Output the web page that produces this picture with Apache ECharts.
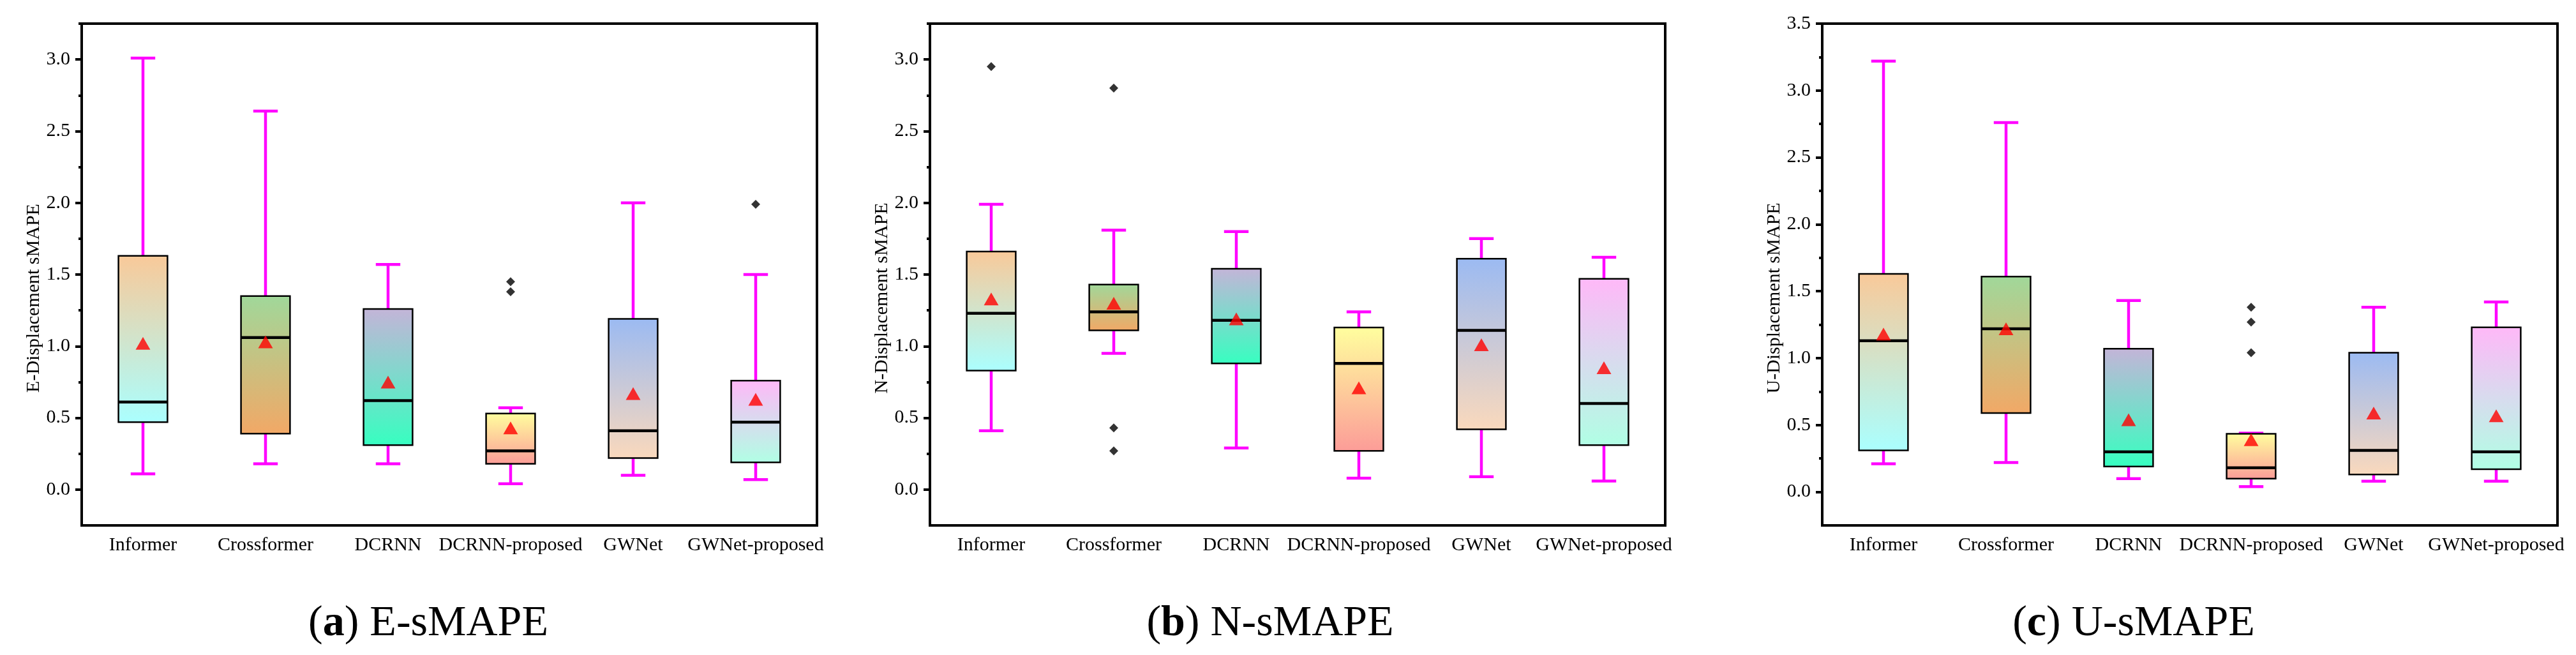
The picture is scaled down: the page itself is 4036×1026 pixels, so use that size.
<!DOCTYPE html>
<html>
<head>
<meta charset="utf-8">
<title>sMAPE boxplots</title>
<script src="https://cdn.jsdelivr.net/npm/echarts@6/dist/echarts.min.js"></script>
<style>
    html, body { margin: 0; padding: 0; background: #fff; }
    #main { width: 4036px; height: 1026px; }
</style>
</head>
<body>
<div id="main"></div>
<script>
// 模型名称
var categories = ["Informer", "Crossformer", "DCRNN", "DCRNN-proposed", "GWNet", "GWNet-proposed"];

// 每个箱子: [min, Q1, median, Q3, max]
var eBox = [
    [0.11, 0.47, 0.61, 1.63, 3.01],
    [0.18, 0.39, 1.06, 1.35, 2.64],
    [0.18, 0.31, 0.62, 1.26, 1.57],
    [0.04, 0.18, 0.27, 0.53, 0.57],
    [0.10, 0.22, 0.41, 1.19, 2.00],
    [0.07, 0.19, 0.47, 0.76, 1.50]
];
var eMean = [1.02, 1.03, 0.75, 0.43, 0.67, 0.63];
var eOutliers = [[3, 1.45], [3, 1.38], [5, 1.99]];

var nBox = [
    [0.41, 0.83, 1.23, 1.66, 1.99],
    [0.95, 1.11, 1.24, 1.43, 1.81],
    [0.29, 0.88, 1.18, 1.54, 1.80],
    [0.08, 0.27, 0.88, 1.13, 1.24],
    [0.09, 0.42, 1.11, 1.61, 1.75],
    [0.06, 0.31, 0.60, 1.47, 1.62]
];
var nMean = [1.33, 1.30, 1.19, 0.71, 1.01, 0.85];
var nOutliers = [[0, 2.95], [1, 2.80], [1, 0.43], [1, 0.27]];

var uBox = [
    [0.21, 0.31, 1.13, 1.63, 3.22],
    [0.22, 0.59, 1.22, 1.61, 2.76],
    [0.10, 0.19, 0.30, 1.07, 1.43],
    [0.04, 0.10, 0.18, 0.435, 0.44],
    [0.08, 0.13, 0.31, 1.04, 1.38],
    [0.08, 0.17, 0.30, 1.23, 1.42]
];
var uMean = [1.18, 1.22, 0.54, 0.39, 0.59, 0.57];
var uOutliers = [[3, 1.38], [3, 1.27], [3, 1.04]];

// 刻度
var majorTicksEN = [0, 0.5, 1.0, 1.5, 2.0, 2.5, 3.0];
var minorTicksEN = [0.25, 0.75, 1.25, 1.75, 2.25, 2.75, 3.25];
var majorTicksU = [0, 0.5, 1.0, 1.5, 2.0, 2.5, 3.0, 3.5];
var minorTicksU = [0.25, 0.75, 1.25, 1.75, 2.25, 2.75, 3.25];

// 每个箱子的渐变色，上 -> 下
var boxColors = [
    ["#f9c999", "#aaffff"],
    ["#a0d89a", "#f2a866"],
    ["#c4b4d8", "#36ffc0"],
    ["#ffff9e", "#fc9c98"],
    ["#9bbaf2", "#fad9bc"],
    ["#ffb8f8", "#b0ffe4"]
];

var FONT = "'Liberation Serif', 'Times New Roman', serif";

var panels = [
    { name: "E-Displacement sMAPE", caption: "({b|a}) E-sMAPE", box: eBox, mean: eMean, out: eOutliers,
      max: 3.25, major: majorTicksEN, minor: minorTicksEN, left: 128, capX: 671 },
    { name: "N-Displacement sMAPE", caption: "({b|b}) N-sMAPE", box: nBox, mean: nMean, out: nOutliers,
      max: 3.25, major: majorTicksEN, minor: minorTicksEN, left: 1457, capX: 1990 },
    { name: "U-Displacement sMAPE", caption: "({b|c}) U-sMAPE", box: uBox, mean: uMean, out: uOutliers,
      max: 3.5, major: majorTicksU, minor: minorTicksU, left: 2855, capX: 3343 }
];

// 自定义箱线图：品红须线，黑色中位线，渐变箱体
function renderBox(params, api) {
    var x = api.value(0);
    var lo = api.coord([x, api.value(1)]);
    var q1 = api.coord([x, api.value(2)]);
    var md = api.coord([x, api.value(3)]);
    var q3 = api.coord([x, api.value(4)]);
    var hi = api.coord([x, api.value(5)]);
    var band = api.size([1, 0])[0];
    var bw = band * 0.4;
    var cw = band * 0.2;
    var cx = md[0];
    var c = boxColors[params.dataIndex];
    var whisker = { stroke: "#ff00ff", lineWidth: 4.5 };

    return {
        type: "group",
        children: [
            { type: "line", shape: { x1: cx, y1: q3[1], x2: cx, y2: hi[1] }, style: whisker },
            { type: "line", shape: { x1: cx, y1: lo[1], x2: cx, y2: q1[1] }, style: whisker },
            { type: "line", shape: { x1: cx - cw / 2, y1: hi[1], x2: cx + cw / 2, y2: hi[1] }, style: whisker },
            { type: "line", shape: { x1: cx - cw / 2, y1: lo[1], x2: cx + cw / 2, y2: lo[1] }, style: whisker },
            {
                type: "rect",
                shape: { x: cx - bw / 2, y: q3[1], width: bw, height: q1[1] - q3[1] },
                style: {
                    fill: new echarts.graphic.LinearGradient(0, 0, 0, 1, [
                        { offset: 0, color: c[0] },
                        { offset: 1, color: c[1] }
                    ]),
                    stroke: "#000",
                    lineWidth: 2.5
                }
            },
            { type: "line", shape: { x1: cx - bw / 2, y1: md[1], x2: cx + bw / 2, y2: md[1] },
              style: { stroke: "#000", lineWidth: 4.5 } }
        ]
    };
}

function buildOption() {
    var option = {
        backgroundColor: "#fff",
        animation: false,
        grid: [],
        xAxis: [],
        yAxis: [],
        series: [],
        graphic: []
    };

    panels.forEach(function(p, i) {
        option.grid.push({
            left: p.left, top: 37, width: 1152, height: 786,
            show: true, borderColor: "#000", borderWidth: 4,
            containLabel: false, outerBoundsMode: "none"
        });

        option.xAxis.push({
            type: "category",
            gridIndex: i,
            data: categories,
            axisLine: { onZero: false, lineStyle: { color: "#000", width: 4 } },
            axisTick: { alignWithLabel: true, length: 10, lineStyle: { color: "#000", width: 4 } },
            axisLabel: { color: "#000", fontSize: 30, fontFamily: FONT, margin: 16, interval: 0 },
            splitLine: { show: false }
        });

        // 主刻度 + 标签
        option.yAxis.push({
            type: "value",
            gridIndex: i,
            position: "left",
            min: -0.25,
            max: p.max,
            name: p.name,
            nameLocation: "middle",
            nameGap: 60,
            nameTextStyle: { color: "#000", fontSize: 30, fontFamily: FONT, padding: [0, 74, 0, 0] },
            axisLine: { show: true, onZero: false, lineStyle: { color: "#000", width: 4 } },
            axisTick: { show: true, length: 10, customValues: p.major, lineStyle: { color: "#000", width: 4 } },
            axisLabel: {
                color: "#000", fontSize: 30, fontFamily: FONT, margin: 18,
                customValues: p.major,
                formatter: function(v) { return v.toFixed(1); }
            },
            splitLine: { show: false }
        });

        // 次刻度
        option.yAxis.push({
            type: "value",
            gridIndex: i,
            position: "left",
            min: -0.25,
            max: p.max,
            axisLine: { show: false, onZero: false },
            axisTick: { show: true, length: 5, customValues: p.minor, lineStyle: { color: "#000", width: 4 } },
            axisLabel: { show: false },
            splitLine: { show: false }
        });

        option.series.push({
            type: "custom",
            xAxisIndex: i,
            yAxisIndex: i * 2,
            renderItem: renderBox,
            encode: { x: 0, y: [1, 2, 3, 4, 5] },
            data: p.box.map(function(b, k) { return [k].concat(b); }),
            z: 2
        });

        option.series.push({
            type: "scatter",
            xAxisIndex: i,
            yAxisIndex: i * 2,
            symbol: "diamond",
            symbolSize: 14,
            itemStyle: { color: "#000" },
            data: p.out,
            z: 3
        });

        option.series.push({
            type: "scatter",
            xAxisIndex: i,
            yAxisIndex: i * 2,
            symbol: "triangle",
            symbolSize: [23, 20],
            itemStyle: { color: "#ff0000" },
            data: p.mean.map(function(v, k) { return [k, v]; }),
            z: 4
        });

        // 子图标题
        option.graphic.push({
            type: "text",
            x: p.capX,
            y: 977,
            style: {
                text: p.caption,
                fill: "#000",
                font: "68px " + FONT,
                align: "center",
                verticalAlign: "middle",
                rich: { b: { fontWeight: "bold", fontSize: 68, fontFamily: FONT } }
            }
        });
    });

    return option;
}

var myChart = echarts.init(document.getElementById("main"));
myChart.setOption(buildOption());
</script>
</body>
</html>
